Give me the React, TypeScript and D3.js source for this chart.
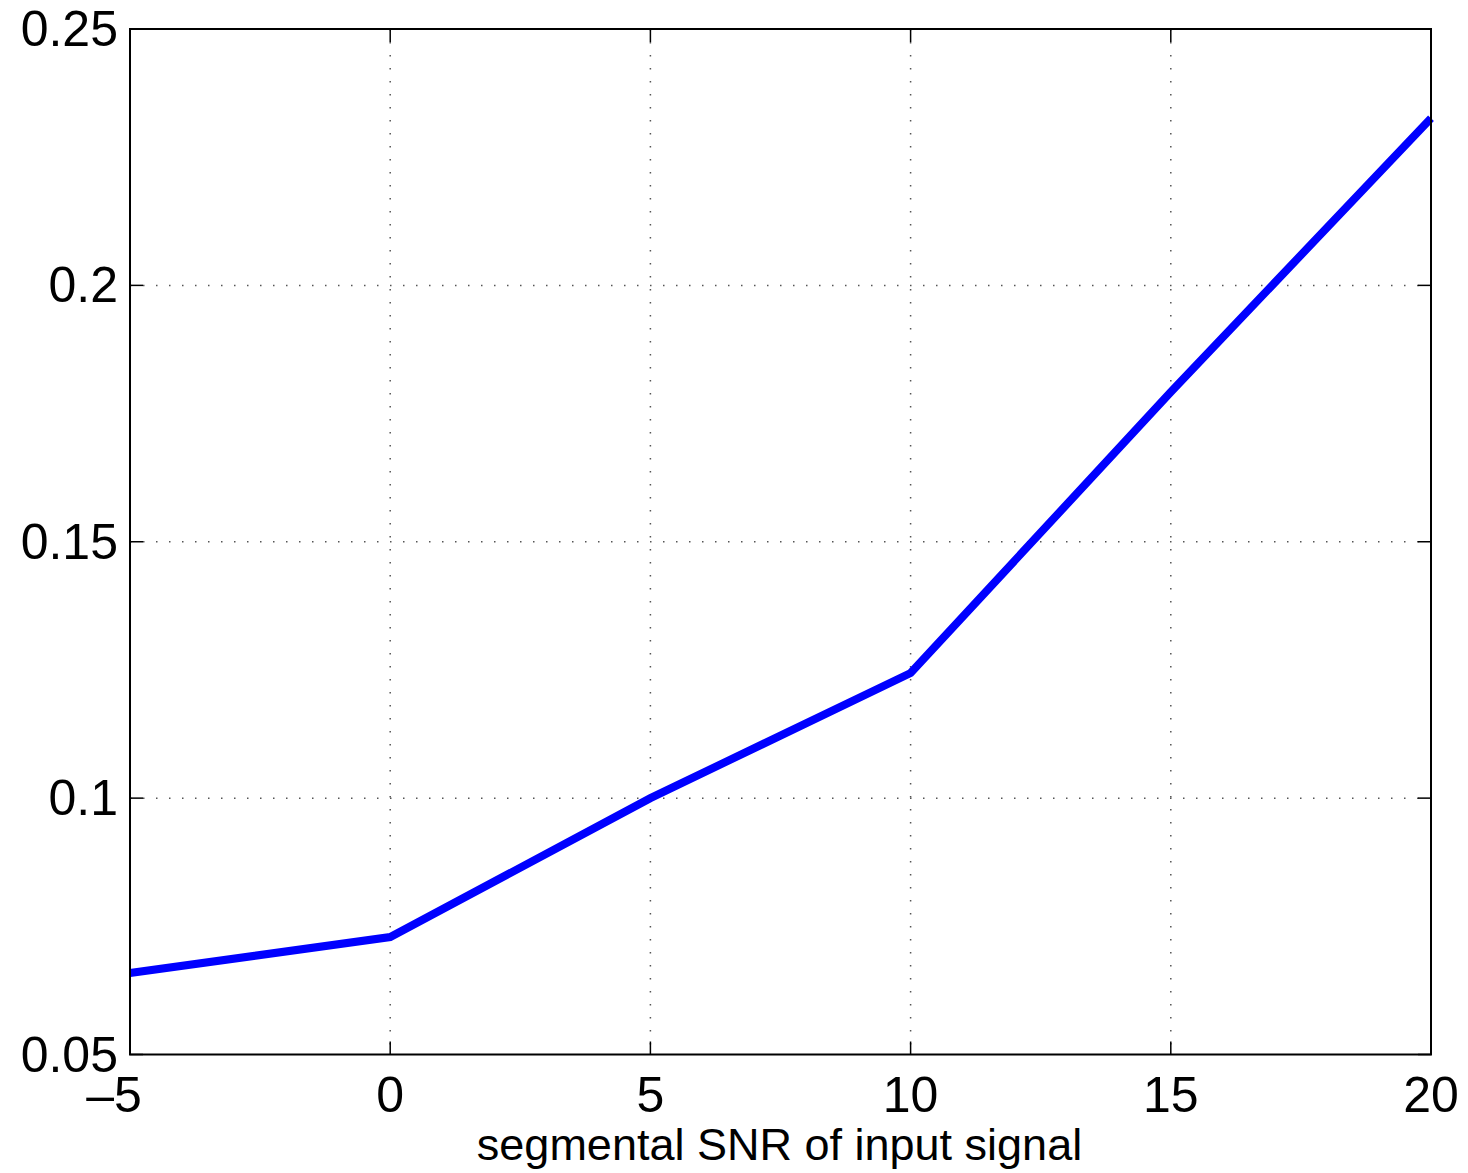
import React from "react";
import * as d3 from "d3";

const WIDTH = 1468;
const HEIGHT = 1173;
const MARGIN = { top: 29, right: 37, bottom: 118.5, left: 130 };

const snrValues = [-5, 0, 5, 10, 15, 20];
const scoreValues = [0.0659, 0.0729, 0.1, 0.1244, 0.1792, 0.2326];
const xTicks = [-5, 0, 5, 10, 15, 20];
const yTicks = [0.05, 0.1, 0.15, 0.2, 0.25];
const xLabel = "segmental SNR of input signal";

const FONT = "'Liberation Sans', Arial, Helvetica, sans-serif";
const TICK_LEN = 13;

const App = () => {
  const boundsWidth = WIDTH - MARGIN.left - MARGIN.right;
  const boundsHeight = HEIGHT - MARGIN.top - MARGIN.bottom;

  const xScale = d3.scaleLinear().domain([-5, 20]).range([0, boundsWidth]);
  const yScale = d3.scaleLinear().domain([0.05, 0.25]).range([boundsHeight, 0]);

  const points: [number, number][] = snrValues.map((x, i) => [x, scoreValues[i]]);
  const linePath = d3
    .line<[number, number]>()
    .x((d) => xScale(d[0]))
    .y((d) => yScale(d[1]))(points);

  const fmtY = (v: number) => String(+v.toFixed(2));
  const fmtX = (v: number) => (v < 0 ? "\u2013" + Math.abs(v) : String(v));

  return (
    <svg
      width={WIDTH}
      height={HEIGHT}
      style={{ position: "absolute", left: 0, top: 0, background: "#fff" }}
    >
      <g transform={`translate(${MARGIN.left},${MARGIN.top})`}>
        {/* dotted grid */}
        {xTicks.slice(1, -1).map((t) => (
          <line
            key={"gx" + t}
            x1={xScale(t)}
            x2={xScale(t)}
            y1={0}
            y2={boundsHeight}
            stroke="#555"
            strokeWidth={1.5}
            strokeDasharray="1.5 11.5"
          />
        ))}
        {yTicks.slice(1, -1).map((t) => (
          <line
            key={"gy" + t}
            x1={0}
            x2={boundsWidth}
            y1={yScale(t)}
            y2={yScale(t)}
            stroke="#555"
            strokeWidth={1.5}
            strokeDasharray="1.5 11.5"
          />
        ))}

        {/* data line */}
        <path
          d={linePath || ""}
          fill="none"
          stroke="#0000ff"
          strokeWidth={8}
          strokeLinejoin="miter"
        />

        {/* inward ticks on all sides */}
        {xTicks.map((t) => (
          <g key={"tx" + t}>
            <line x1={xScale(t)} x2={xScale(t)} y1={boundsHeight} y2={boundsHeight - TICK_LEN} stroke="#000" strokeWidth={1.5} />
            <line x1={xScale(t)} x2={xScale(t)} y1={0} y2={TICK_LEN} stroke="#000" strokeWidth={1.5} />
          </g>
        ))}
        {yTicks.map((t) => (
          <g key={"ty" + t}>
            <line x1={0} x2={TICK_LEN} y1={yScale(t)} y2={yScale(t)} stroke="#000" strokeWidth={1.5} />
            <line x1={boundsWidth} x2={boundsWidth - TICK_LEN} y1={yScale(t)} y2={yScale(t)} stroke="#000" strokeWidth={1.5} />
          </g>
        ))}

        {/* axes box */}
        <rect
          x={0}
          y={0}
          width={boundsWidth}
          height={boundsHeight}
          fill="none"
          stroke="#000"
          strokeWidth={2}
        />

        {/* tick labels */}
        {yTicks.map((t) => (
          <text
            key={"ly" + t}
            x={-12}
            y={yScale(t)}
            textAnchor="end"
            dominantBaseline="central"
            fontFamily={FONT}
            fontSize={50}
            fill="#000"
          >
            {fmtY(t)}
          </text>
        ))}
        {xTicks.map((t) => (
          <text
            key={"lx" + t}
            x={xScale(t)}
            dx={t < 0 ? -16 : 0}
            y={boundsHeight + 57}
            textAnchor="middle"
            fontFamily={FONT}
            fontSize={50}
            fill="#000"
          >
            {fmtX(t)}
          </text>
        ))}

        <text
          x={boundsWidth / 2 - 1}
          y={boundsHeight + 105}
          textAnchor="middle"
          fontFamily={FONT}
          fontSize={45}
          fill="#000"
        >
          {xLabel}
        </text>
      </g>
    </svg>
  );
};

export default App;
